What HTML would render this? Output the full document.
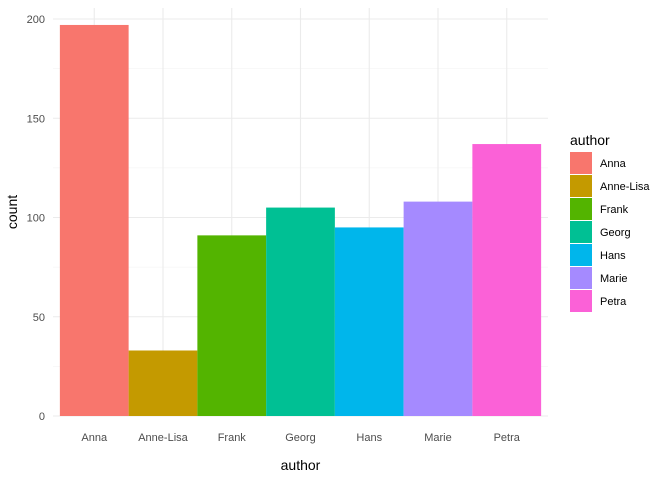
<!DOCTYPE html>
<html><head><meta charset="utf-8"><style>
body{margin:0;background:#fff;font-family:"Liberation Sans",Arial,sans-serif;}
svg text{font-family:"Liberation Sans",Arial,sans-serif;}
</style></head><body>
<svg id="chart" width="672" height="480"></svg>
<script>
const categories=["Anna","Anne-Lisa","Frank","Georg","Hans","Marie","Petra"];
const counts=[197,33,91,105,95,108,137];
const colors=["#F8766D","#C49A00","#53B400","#00C094","#00B6EB","#A58AFF","#FB61D7"];
const yTicks=[0,50,100,150,200];
const ns="http://www.w3.org/2000/svg";
const svg=document.getElementById('chart');
const pLeft=53,pRight=548,pTop=8,pBottom=416;
const step=(pRight-pLeft)/(categories.length+0.2);
const xPos=i=>pLeft+step*(0.6+i);
const yPos=v=>pBottom-v*1.985;
function mk(t,a,p){const e=document.createElementNS(ns,t);for(const k in a)e.setAttribute(k,a[k]);(p||svg).appendChild(e);return e;}
const grid=mk('g',{});


for(let v=25;v<=200;v+=50){const yy=yPos(v);if(yy>pTop)mk('line',{x1:pLeft,x2:pRight,y1:yy,y2:yy,stroke:'#F0F0F0','stroke-width':0.6},grid);}
yTicks.forEach(v=>{mk('line',{x1:pLeft,x2:pRight,y1:yPos(v),y2:yPos(v),stroke:'#EBEBEB','stroke-width':1.1},grid);
const t=mk('text',{x:45,y:yPos(v)+4,'text-anchor':'end','font-size':11,fill:'#4D4D4D'});t.textContent=v;

});
categories.forEach((c,i)=>{mk('line',{x1:xPos(i),x2:xPos(i),y1:pTop,y2:pBottom,stroke:'#EBEBEB','stroke-width':1.1},grid);});
categories.forEach((c,i)=>{
const r=mk('rect',{x:xPos(i)-step/2,y:yPos(counts[i]),width:step,height:pBottom-yPos(counts[i]),fill:colors[i]});


const t=mk('text',{x:xPos(i),y:441,'text-anchor':'middle','font-size':11,fill:'#4D4D4D'});t.textContent=c;


});
let tt=mk('text',{x:xPos(3),y:470,'text-anchor':'middle','font-size':14,fill:'#000'});tt.textContent='author';


tt=mk('text',{x:0,y:0,transform:'translate(17,'+((pTop+pBottom)/2)+') rotate(-90)','text-anchor':'middle','font-size':14,fill:'#000'});tt.textContent='count';


tt=mk('text',{x:570,y:145,'font-size':14,fill:'#000'});tt.textContent='author';


categories.forEach((c,i)=>{
const g=mk('g',{});


const yy=152+i*23;
mk('rect',{x:570,y:yy,width:22,height:22,fill:colors[i]},g);
const l=mk('text',{x:600,y:yy+15,'font-size':11,fill:'#000'},g);l.textContent=c;
});
</script>
</body></html>
